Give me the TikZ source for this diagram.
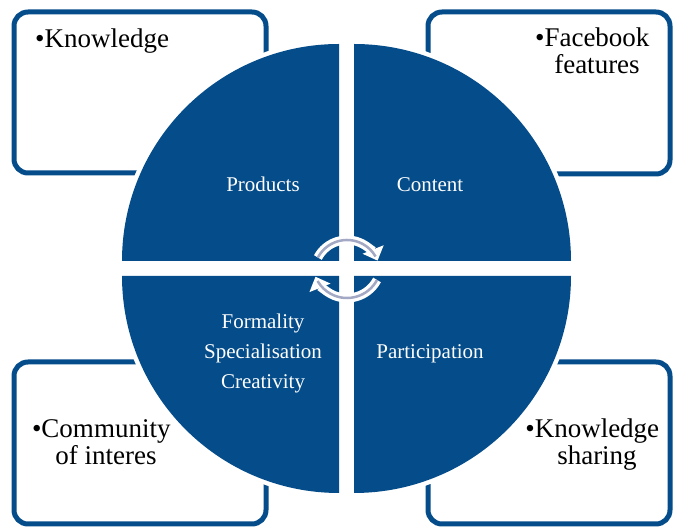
\documentclass[tikz,border=0pt]{standalone}
\usepackage{fontspec}
\setmainfont{Liberation Serif}
\usetikzlibrary{arrows.meta}
\definecolor{navy}{RGB}{4,76,138}
\definecolor{arrowgrey}{RGB}{163,168,196}

\begin{document}
\begin{tikzpicture}[x=1pt, y=1pt,
            infobox/.style={rectangle, draw=navy, line width=5pt, rounded corners=14pt, inner sep=0pt},
            bullettext/.style={font=\fontsize{27}{27}\selectfont, align=center, inner sep=0pt},
            quad/.style={fill=navy, preaction={draw=white, line width=9pt}},
            quadtext/.style={text=white, font=\fontsize{21}{30}\selectfont, align=center, inner sep=0pt},
            circarrow/.style={white, line width=9pt, -{Triangle[length=12pt, width=22pt]}},
            circline/.style={arrowgrey, line width=2.5pt}
        ]
            \useasboundingbox (0,0) rectangle (673,527);

            % Corner boxes
            \node[infobox, minimum width=252pt, minimum height=161pt] (knowbox) at (140,434.5) {};
            \node[infobox, minimum width=242pt, minimum height=162pt] (facebox) at (549,434) {};
            \node[infobox, minimum width=252pt, minimum height=162pt] (commbox) at (140,84) {};
            \node[infobox, minimum width=242pt, minimum height=162pt] (sharebox) at (549,84) {};

            % Quarter discs
            \fill[quad] (339,266) -- (122,266) arc[start angle=180, end angle=90, radius=217] -- cycle;
            \fill[quad] (354,266) -- (354,483) arc[start angle=90, end angle=0, radius=217] -- cycle;
            \fill[quad] (339,251) -- (339,34) arc[start angle=270, end angle=180, radius=217] -- cycle;
            \fill[quad] (354,251) -- (571,251) arc[start angle=0, end angle=-90, radius=217] -- cycle;

            % Disc labels
            \node[quadtext, anchor=base] (products) at (263,335) {Products};
            \node[quadtext, anchor=base] (content) at (430,335) {Content};
            \node[quadtext, anchor=base] (traits) at (263,138) {Formality\\Specialisation\\Creativity};
            \node[quadtext, anchor=base] (participation) at (430,168) {Participation};

            % Box labels
            \node[bullettext, anchor=base west] (knowledge) at (35,479) {\textbullet Knowledge};
            \node[bullettext, anchor=base] (facebook) at (597,453) {\llap{\textbullet}Facebook\\features};
            \node[bullettext, anchor=base] (community) at (106,62) {\llap{\textbullet}Community\\of interes};
            \node[bullettext, anchor=base] (sharing) at (597,62) {\llap{\textbullet}Knowledge\\sharing};

            % Cycle arrows in the middle
            \draw[circarrow] (347,254) ++(152:33) arc[start angle=152, end angle=22, radius=33];
            \draw[circline] (347,254) ++(152:33) arc[start angle=152, end angle=30, radius=33];
            \draw[circarrow] (347,263) ++(-28:34) arc[start angle=-28, end angle=-158, radius=34];
            \draw[circline] (347,263) ++(-28:34) arc[start angle=-28, end angle=-150, radius=34];

        \end{tikzpicture}
\end{document}
